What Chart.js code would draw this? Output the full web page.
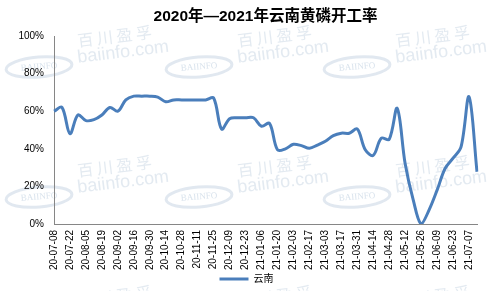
<!DOCTYPE html>
<html>
<head>
  <meta charset="utf-8">
  <title>2020年—2021年云南黄磷开工率</title>
  <style>
    html, body { margin: 0; padding: 0; background: #ffffff; }
    #wrap { width: 495px; height: 291px; }
  </style>
</head>
<body>
  <div id="wrap"><canvas id="chart" width="495" height="291"></canvas></div>

  <script src="https://cdn.jsdelivr.net/npm/chart.js"></script>
  <script>
    // semanas (categorias)
    const weeks = [
      '20-07-08', '20-07-15', '20-07-22', '20-07-29', '20-08-05', '20-08-12', '20-08-19', '20-08-26',
      '20-09-02', '20-09-09', '20-09-16', '20-09-23', '20-09-30', '20-10-07', '20-10-14', '20-10-21',
      '20-10-28', '20-11-04', '20-11-11', '20-11-18', '20-11-25', '20-12-02', '20-12-09', '20-12-16',
      '20-12-23', '20-12-30', '21-01-06', '21-01-13', '21-01-20', '21-01-27', '21-02-03', '21-02-10',
      '21-02-17', '21-02-24', '21-03-03', '21-03-10', '21-03-17', '21-03-24', '21-03-31', '21-04-07',
      '21-04-14', '21-04-21', '21-04-28', '21-05-05', '21-05-12', '21-05-19', '21-05-26', '21-06-02',
      '21-06-09', '21-06-16', '21-06-23', '21-06-30', '21-07-07', '21-07-14'
    ];

    // taxa de operação (%) - 云南
    const yunnan = [
      60, 62, 48, 58, 55, 55.5, 58, 62, 60, 66, 68, 68, 68, 67.5, 65, 66,
      66, 66, 66, 66, 67, 50.5, 56, 56.5, 56.5, 56.5, 52, 53.5, 39.5, 40,
      42.4, 41.7, 40.3, 42, 44, 47, 48.3, 48.3, 50.5, 39.5, 36.5, 45.6, 45, 61.5,
      32, 13, 0, 7.5, 18, 29.5, 35, 41, 67.7, 27.8
    ];

    const yTicks = [0, 20, 40, 60, 80, 100];

    const FONT = '"Liberation Sans", Arial, "Noto Sans CJK SC", sans-serif';

    // marca d'água do fundo
    const watermark = {
      id: 'watermark',
      beforeDraw(chart) {
        const ctx = chart.ctx;
        ctx.save();
        const cols = [75, 235, 393];
        const rows = [37, 167, 297];
        rows.forEach(function (y0) {
          cols.forEach(function (cx) {
            ctx.save();
            ctx.translate(cx, y0);
            ctx.rotate(-0.12);
            ctx.fillStyle = 'rgba(200, 214, 228, 0.5)';
            ctx.font = '16px "Noto Sans CJK SC", sans-serif';
            ctx.textBaseline = 'top';
            ctx.fillText('百 川 盈 孚', 2, -4);
            ctx.font = '18px ' + FONT;
            ctx.fillText('baiinfo.com', 0, 12);
            ctx.restore();

            ctx.save();
            ctx.translate(cx - 36, y0 + 30);
            ctx.rotate(-0.08);
            ctx.strokeStyle = 'rgba(200, 214, 228, 0.55)';
            ctx.lineWidth = 3;
            ctx.beginPath();
            ctx.ellipse(0, 0, 33, 10, 0, 0, Math.PI * 2);
            ctx.stroke();
            ctx.fillStyle = 'rgba(200, 214, 228, 0.7)';
            ctx.font = '9px "Liberation Serif", serif';
            ctx.textAlign = 'center';
            ctx.textBaseline = 'middle';
            ctx.fillText('BAIINFO', 0, 0);
            ctx.restore();
          });
        });
        ctx.restore();
      }
    };

    new Chart(document.getElementById('chart'), {
      type: 'line',
      data: {
        labels: weeks,
        datasets: [{
          label: '云南',
          data: yunnan,
          borderColor: '#4a7ebb',
          backgroundColor: '#4a7ebb',
          borderWidth: 3,
          pointRadius: 0,
          pointHoverRadius: 0,
          tension: 0.35,
          fill: false
        }]
      },
      options: {
        responsive: false,
        animation: false,
        layout: { padding: { left: 16, right: 18, top: 0, bottom: 0 } },
        plugins: {
          title: {
            display: true,
            fullSize: false,
            text: '2020年—2021年云南黄磷开工率',
            color: '#000000',
            font: { family: FONT, size: 15.5, weight: 'bold' },
            padding: { top: 7, bottom: 10.4 }
          },
          legend: {
            position: 'bottom',
            maxHeight: 21,
            labels: {
              color: '#000000',
              font: { family: FONT, size: 10 },
              usePointStyle: true,
              pointStyle: 'line',
              pointStyleWidth: 29,
              padding: 4
            }
          },
          tooltip: { enabled: false }
        },
        scales: {
          x: {
            grid: { display: false, drawTicks: false },
            border: { display: true, color: '#868686', width: 1 },
            afterFit: function (scale) { scale.height = 46; },
            ticks: {
              autoSkip: false,
              maxRotation: 90,
              minRotation: 90,
              padding: 6,
              color: '#000000',
              font: { family: FONT, size: 10 },
              callback: function (value, index) {
                return index % 2 === 0 ? weeks[index] : '';
              }
            }
          },
          y: {
            min: 0,
            max: 100,
            grid: { display: false, drawTicks: false },
            border: { display: true, color: '#868686', width: 1 },
            afterFit: function (scale) { scale.width = 38; },
            afterBuildTicks: function (scale) {
              scale.ticks = yTicks.map(function (v) { return { value: v }; });
            },
            ticks: {
              padding: 10,
              color: '#000000',
              font: { family: FONT, size: 10 },
              callback: function (value) { return value + '%'; }
            }
          }
        }
      },
      plugins: [watermark]
    });
  </script>
</body>
</html>
